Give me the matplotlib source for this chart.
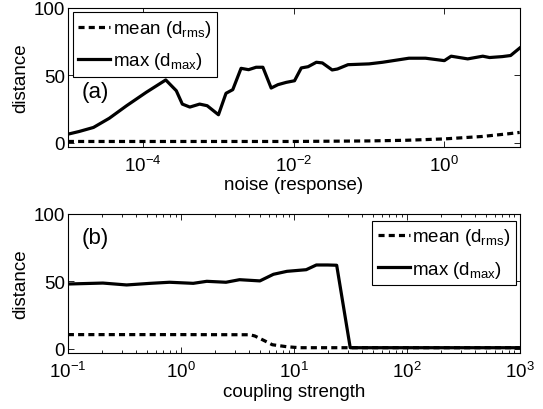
import matplotlib
matplotlib.use('Agg')
import matplotlib.pyplot as plt
import numpy as np

plt.rcParams['font.family'] = ['Liberation Sans', 'DejaVu Sans']
plt.rcParams['mathtext.default'] = 'regular'

# panel (a): noise in the response -------------------------------------------
noise_exp = [-5.0, -4.85, -4.66, -4.45, -4.22, -3.96, -3.70, -3.56, -3.48, -3.38,
             -3.25, -3.15, -3.0, -2.90, -2.81, -2.70, -2.60, -2.50, -2.41, -2.30,
             -2.21, -2.10, -1.99, -1.90, -1.81, -1.70, -1.62, -1.49, -1.42, -1.28,
             -1.0, -0.82, -0.47, -0.25, 0.0, 0.09, 0.31, 0.51, 0.60, 0.77, 0.88, 1.0]
max_a = [6.2, 8.2, 11.2, 18.0, 27.3, 37.2, 46.4, 38.4, 28.5, 26.3,
         28.5, 27.3, 20.6, 36.5, 39.2, 55.0, 54.0, 55.8, 55.8, 40.4,
         42.9, 44.6, 45.8, 55.3, 56.2, 59.5, 59.0, 53.8, 54.5, 57.7,
         58.3, 59.5, 62.5, 62.5, 60.7, 64.0, 62.0, 64.0, 63.0, 63.7, 64.5, 70.0]
mean_exp_a = [-5.0, -3.0, -2.0, -1.0, -0.5, 0.0, 0.5, 0.85, 1.0]
mean_a = [0.8, 0.8, 0.8, 1.2, 1.7, 2.7, 4.5, 6.5, 7.5]

# panel (b): coupling strength -------------------------------------------------
coup_exp = [-1.0, -0.69, -0.48, -0.27, -0.10, 0.11, 0.23, 0.40, 0.52, 0.70,
            0.82, 0.94, 1.11, 1.20, 1.30, 1.38, 1.50, 2.0, 2.5, 3.0]
max_b = [48.0, 48.7, 47.3, 48.5, 49.3, 48.5, 50.0, 49.3, 51.2, 50.3,
         55.2, 57.4, 58.6, 62.1, 62.1, 61.9, 0.8, 0.8, 0.8, 0.8]
mean_exp_b = [-1.0, 0.0, 0.61, 0.655, 0.74, 0.81, 0.94, 1.05, 2.0, 3.0]
mean_b = [10.5, 10.5, 10.4, 9.5, 6.0, 3.0, 1.5, 0.8, 0.8, 0.8]

fig = plt.figure(figsize=(5.43, 4.10), dpi=100)
ax1 = fig.add_axes([0.125, 0.640, 0.832, 0.339])
ax2 = fig.add_axes([0.125, 0.137, 0.832, 0.339])

lw = 2.3
dash = (1.9, 1.3)
fs = 13.5

def legend_box(ax, **kw):
    leg = ax.legend(fontsize=fs, fancybox=False, edgecolor='black', framealpha=1,
                    borderpad=0.3, handlelength=1.7, handletextpad=0.15,
                    labelspacing=0.6, borderaxespad=0, **kw)
    leg.get_frame().set_linewidth(0.8)

for ax in (ax1, ax2):
    ax.set_xscale('log')
    ax.set_ylim(-3, 100)
    ax.set_yticks([0, 50, 100])
    ax.tick_params(which='both', direction='in', top=True, right=True,
                   labelsize=fs, width=0.6, color='black')
    ax.tick_params(axis='x', pad=6)
    ax.tick_params(axis='y', pad=2)
    ax.tick_params(which='major', length=4)
    ax.tick_params(which='minor', length=2.5)
    for s in ax.spines.values():
        s.set_linewidth(0.8)
    ax.set_ylabel('distance', fontsize=fs, labelpad=3)

ax1.plot(10.0 ** np.array(mean_exp_a), mean_a, color='black', lw=lw,
         dashes=dash, label='mean (d$_{rms}$)')
ax1.plot(10.0 ** np.array(noise_exp), max_a, color='black', lw=lw,
         label='max (d$_{max}$)')
ax1.set_xlim(1e-5, 10)
ax1.set_xticks([1e-4, 1e-2, 1])
ax1.xaxis.set_minor_locator(matplotlib.ticker.NullLocator())
ax1.set_xlabel('noise (response)', fontsize=fs, labelpad=1)
ax1.text(0.031, 0.40, '(a)', transform=ax1.transAxes, fontsize=16, va='center')
legend_box(ax1, loc='upper left', bbox_to_anchor=(0.011, 0.965))

ax2.plot(10.0 ** np.array(mean_exp_b), mean_b, color='black', lw=lw,
         dashes=dash, label='mean (d$_{rms}$)')
ax2.plot(10.0 ** np.array(coup_exp), max_b, color='black', lw=lw,
         label='max (d$_{max}$)')
ax2.set_xlim(1e-1, 1e3)
ax2.set_xticks([1e-1, 1, 10, 100, 1000])
ax2.set_xlabel('coupling strength', fontsize=fs, labelpad=1)
ax2.text(0.031, 0.83, '(b)', transform=ax2.transAxes, fontsize=16, va='center')
legend_box(ax2, loc='upper right', bbox_to_anchor=(0.993, 0.95))

plt.savefig('out.png', dpi=100)
